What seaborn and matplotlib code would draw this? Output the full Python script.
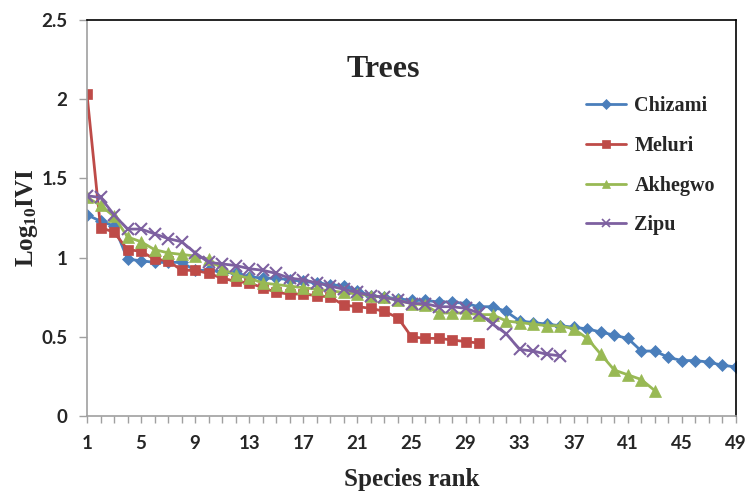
import matplotlib
matplotlib.use("Agg")
import matplotlib.pyplot as plt
import seaborn as sns
import pandas as pd
from matplotlib.lines import Line2D

chizami = [1.27, 1.23, 1.20, 0.99, 0.98, 0.97, 0.97, 0.97, 0.92, 0.92,
           0.91, 0.90, 0.88, 0.87, 0.87, 0.86, 0.85, 0.84, 0.83, 0.82,
           0.79, 0.76, 0.75, 0.74, 0.73, 0.73, 0.72, 0.72, 0.71, 0.69,
           0.69, 0.66, 0.60, 0.59, 0.58, 0.57, 0.56, 0.55, 0.53, 0.51,
           0.49, 0.41, 0.41, 0.37, 0.35, 0.35, 0.34, 0.32, 0.31]
meluri = [2.03, 1.19, 1.16, 1.05, 1.04, 0.99, 0.98, 0.92, 0.92, 0.90,
          0.87, 0.85, 0.84, 0.81, 0.78, 0.77, 0.77, 0.76, 0.75, 0.70,
          0.69, 0.68, 0.66, 0.62, 0.50, 0.49, 0.49, 0.48, 0.47, 0.46]
akhegwo = [1.38, 1.33, 1.26, 1.13, 1.10, 1.05, 1.03, 1.02, 1.01, 0.99,
           0.93, 0.89, 0.87, 0.84, 0.83, 0.82, 0.81, 0.80, 0.79, 0.78,
           0.77, 0.76, 0.75, 0.73, 0.71, 0.70, 0.65, 0.65, 0.65, 0.64,
           0.64, 0.60, 0.59, 0.58, 0.57, 0.57, 0.55, 0.49, 0.39, 0.29,
           0.26, 0.23, 0.16]
zipu = [1.39, 1.38, 1.27, 1.18, 1.18, 1.15, 1.12, 1.10, 1.03, 0.97,
        0.96, 0.95, 0.93, 0.92, 0.90, 0.87, 0.86, 0.84, 0.82, 0.80,
        0.78, 0.76, 0.75, 0.73, 0.71, 0.71, 0.69, 0.69, 0.68, 0.65,
        0.58, 0.52, 0.42, 0.41, 0.39, 0.38]

series_names = ["Chizami", "Meluri", "Akhegwo", "Zipu"]
series_values = [chizami, meluri, akhegwo, zipu]
x_tick_labels = list(range(1, 50, 4))
y_tick_values = [0, 0.5, 1, 1.5, 2, 2.5]
y_tick_labels = ["0", "0.5", "1", "1.5", "2", "2.5"]

colors = ["#4A7EBB", "#BE4B48", "#98B954", "#7D60A0"]
markers = ["D", "s", "^", "x"]
msizes = [6, 7, 8, 8]

sns.set_style("white")
plt.rcParams['font.family'] = ['Lato', 'DejaVu Sans']
plt.rcParams['mathtext.fontset'] = 'custom'
plt.rcParams['mathtext.rm'] = 'Liberation Serif:bold'
plt.rcParams['mathtext.bf'] = 'Liberation Serif:bold'
plt.rcParams['mathtext.it'] = 'Liberation Serif:bold'

fig = plt.figure(figsize=(7.52, 4.96), dpi=100)
ax = fig.add_axes([87/752, 1-416/496, (736-87)/752, (416-20)/496])

for name, vals, c, m, ms in zip(series_names, series_values, colors, markers, msizes):
    df = pd.DataFrame({"rank": list(range(1, len(vals)+1)), "val": vals})
    sns.lineplot(data=df, x="rank", y="val", ax=ax, color=c, marker=m,
                 markersize=ms, linewidth=2, markeredgecolor=c,
                 markeredgewidth=1.5 if m == "x" else 0.5, legend=False)

ax.set_xlim(1, 49)
ax.set_ylim(0, 2.5)
ax.set_xticks(x_tick_labels)
ax.set_xticklabels([str(v) for v in x_tick_labels], fontsize=13.5, fontweight="bold")
ax.set_xticks(range(1, 50), minor=True)
ax.set_yticks(y_tick_values)
ax.set_yticklabels(y_tick_labels, fontsize=13.5, fontweight="bold")
ax.tick_params(axis="x", which="both", direction="out", length=5, color="#A0A0A0", width=1, pad=9, bottom=True)
ax.tick_params(axis="y", which="major", direction="out", length=6, color="#A0A0A0", width=1, pad=8, left=True)

for s in ["left", "bottom"]:
    ax.spines[s].set_color("#A0A0A0")
    ax.spines[s].set_linewidth(1.2)
for s in ["top", "right"]:
    ax.spines[s].set_color("black")
    ax.spines[s].set_linewidth(1.2)

ax.set_xlabel("Species rank", fontsize=18, fontweight="bold", family="Liberation Serif", labelpad=11)
ax.set_ylabel(r"Log$_{\mathrm{10}}$IVI", fontsize=18, fontweight="bold", family="Liberation Serif", labelpad=1)
ax.text(0.456, 0.874, "Trees", transform=ax.transAxes, ha="center", va="center",
        fontsize=23, fontweight="bold", family="Liberation Serif")

handles = [Line2D([0], [0], color=c, marker=m, markersize=ms*0.8, linewidth=2,
                  markeredgecolor=c, markeredgewidth=1.2 if m == "x" else 0.5)
           for c, m, ms in zip(colors, markers, msizes)]
leg = ax.legend(handles, series_names, loc="upper left", bbox_to_anchor=(568/752, 1-78/496),
                bbox_transform=fig.transFigure, frameon=False, handlelength=2.0,
                labelspacing=0.98, handletextpad=0.4,
                prop={"family": "Liberation Serif", "weight": "bold", "size": 14.5})

fig.savefig("out.png", dpi=100)
